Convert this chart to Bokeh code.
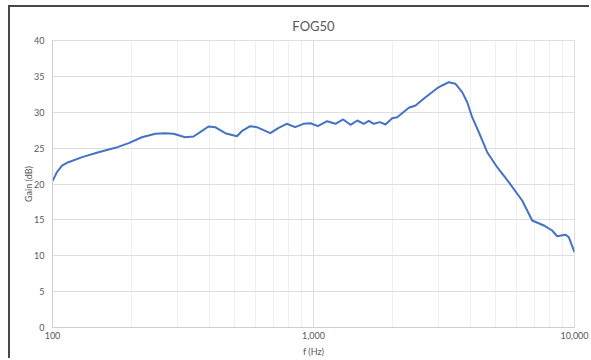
from bokeh.plotting import figure
from bokeh.models import FixedTicker, NumeralTickFormatter, Range1d
from bokeh.embed import file_html
from bokeh.resources import INLINE

# Data
freq_hz = [100, 104, 109, 115, 130, 150, 174, 196, 220, 248, 270, 291, 322, 347, 368,
           396, 420, 459, 509, 531, 572, 607, 683, 735, 790, 851, 915, 974, 1039, 1128,
           1214, 1299, 1387, 1471, 1559, 1629, 1702, 1795, 1887, 2002, 2093, 2318, 2460,
           2687, 2978, 3112, 3299, 3500, 3713, 3881, 4055, 4299, 4629, 5055, 5600, 6302,
           6886, 7628, 8212, 8582, 9237, 9508, 10000]
gain_db = [20.4, 21.65, 22.58, 23.04, 23.74, 24.43, 25.04, 25.69, 26.52, 27.0, 27.08,
           27.0, 26.52, 26.62, 27.22, 28.01, 27.92, 27.08, 26.66, 27.36, 28.06, 27.92,
           27.08, 27.83, 28.39, 27.92, 28.39, 28.47, 28.06, 28.75, 28.39, 28.99, 28.25,
           28.85, 28.39, 28.81, 28.39, 28.62, 28.29, 29.17, 29.31, 30.62, 30.94, 32.1,
           33.35, 33.73, 34.19, 33.96, 32.8, 31.4, 29.31, 27.22, 24.43, 22.34, 20.25,
           17.7, 14.91, 14.22, 13.52, 12.72, 12.92, 12.59, 10.5]

x_major_ticks = [100, 1000, 10000]
x_minor_ticks = [200, 300, 400, 500, 600, 700, 800, 900,
                 2000, 3000, 4000, 5000, 6000, 7000, 8000, 9000]
y_ticks = [0, 5, 10, 15, 20, 25, 30, 35, 40]

FONT = "Lato"
TXT = "#595959"

p = figure(width=581, height=353, x_axis_type="log", output_backend="svg",
           toolbar_location=None, title="FOG50",
           x_range=Range1d(100, 10000), y_range=Range1d(0, 40),
           min_border_left=42, min_border_top=33, min_border_right=17, min_border_bottom=33)
p.styles = {"margin-left": "8px", "margin-top": "5px",
            "border-left": "2px solid #474747", "border-top": "2px solid #474747"}

p.title.align = "center"
p.title.text_font = FONT
p.title.text_font_size = "13px"
p.title.text_font_style = "normal"
p.title.text_color = TXT
p.title.text_line_height = 1.0
p.title.standoff = 14

p.xaxis.ticker = FixedTicker(ticks=x_major_ticks, minor_ticks=x_minor_ticks)
p.xaxis.formatter = NumeralTickFormatter(format="0,0")
p.yaxis.ticker = FixedTicker(ticks=y_ticks)

for ax in (p.xaxis, p.yaxis):
    ax.major_tick_line_color = None
    ax.minor_tick_line_color = None
    ax.major_tick_out = 0
    ax.major_tick_in = 0
    ax.minor_tick_out = 0
    ax.minor_tick_in = 0
    ax.axis_line_color = "#cfcfcf"
    ax.major_label_text_font = FONT
    ax.major_label_text_font_size = "9px"
    ax.major_label_text_color = TXT
    ax.axis_label_text_font = FONT
    ax.axis_label_text_font_size = "9px"
    ax.axis_label_text_font_style = "normal"
    ax.axis_label_text_color = TXT

p.xaxis.axis_label = "f (Hz)"
p.yaxis.axis_label = "Gain (dB)"
p.xaxis.major_label_standoff = 4
p.xaxis.axis_label_standoff = 4
p.yaxis.major_label_standoff = 8
p.yaxis.axis_label_standoff = -3

p.xgrid.grid_line_color = "#dedede"
p.xgrid.minor_grid_line_color = "#efefef"
p.ygrid.grid_line_color = "#dedede"
p.outline_line_color = "#dedede"

p.line(freq_hz, gain_db, line_color="#4472C4", line_width=2, line_join="round")

open("out.html", "w").write(file_html(p, INLINE))
